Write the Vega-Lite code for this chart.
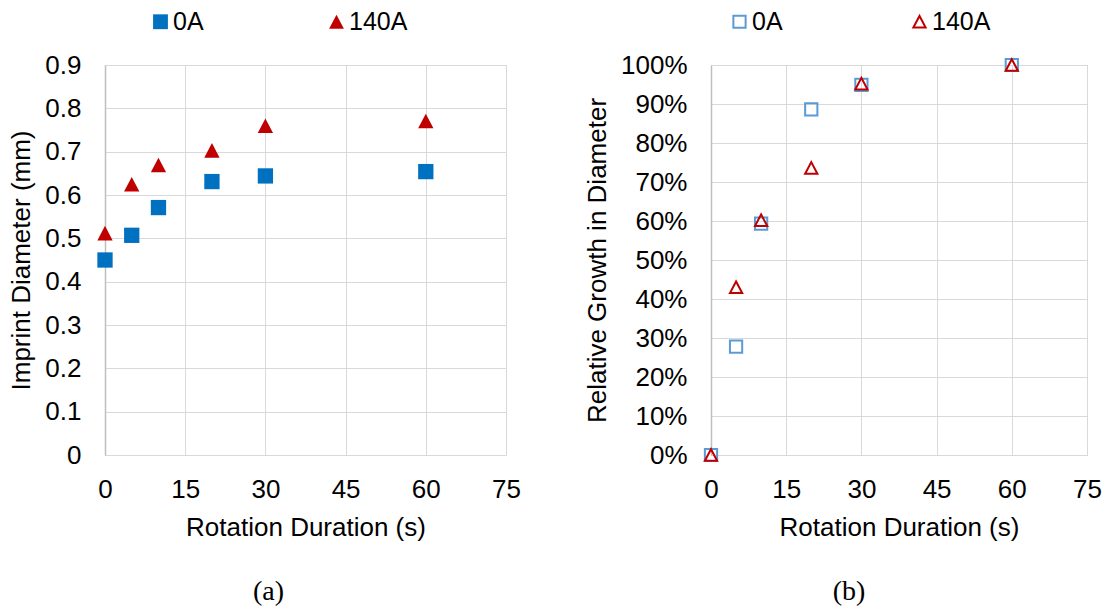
{
  "$schema": "https://vega.github.io/schema/vega-lite/v6.json",
  "background": "white",
  "padding": {"left": 8, "top": 8, "right": 5, "bottom": 5},
  "datasets": {
    "rotation": [
      {"t": 0, "current": "0A", "diameter": 0.450, "growth": 0.000},
      {"t": 5, "current": "0A", "diameter": 0.507, "growth": 0.278},
      {"t": 10, "current": "0A", "diameter": 0.571, "growth": 0.593},
      {"t": 20, "current": "0A", "diameter": 0.631, "growth": 0.886},
      {"t": 30, "current": "0A", "diameter": 0.644, "growth": 0.949},
      {"t": 60, "current": "0A", "diameter": 0.654, "growth": 1.000},
      {"t": 0, "current": "140A", "diameter": 0.512, "growth": 0.000},
      {"t": 5, "current": "140A", "diameter": 0.625, "growth": 0.430},
      {"t": 10, "current": "140A", "diameter": 0.669, "growth": 0.602},
      {"t": 20, "current": "140A", "diameter": 0.703, "growth": 0.736},
      {"t": 30, "current": "140A", "diameter": 0.760, "growth": 0.952},
      {"t": 60, "current": "140A", "diameter": 0.771, "growth": 1.000}
    ]
  },
  "spacing": 205,
  "bounds": "flush",
  "resolve": {
    "scale": {"color": "independent", "shape": "independent"},
    "legend": {"color": "independent", "shape": "independent"}
  },
  "config": {
    "font": "Liberation Sans",
    "view": {"stroke": "#D9D9D9", "strokeWidth": 1},
    "axis": {
      "labelFont": "Liberation Sans",
      "titleFont": "Liberation Sans",
      "labelFontSize": 26,
      "titleFontSize": 26,
      "titleFontWeight": "normal",
      "labelColor": "#000000",
      "titleColor": "#000000",
      "ticks": false,
      "tickSize": 0,
      "grid": true,
      "gridColor": "#D9D9D9",
      "gridWidth": 1,
      "labelOverlap": false,
      "labelFlush": false
    },
    "axisX": {"labelPadding": 21, "titlePadding": 12, "domainColor": "#D9D9D9", "domainWidth": 1},
    "axisY": {"labelPadding": 24, "titlePadding": 10, "domainColor": "#BFBFBF", "domainWidth": 1.5},
    "legend": {
      "labelFont": "Liberation Sans",
      "labelFontSize": 25,
      "labelColor": "#000000",
      "labelOffset": 0
    },
    "title": {"font": "Liberation Serif", "fontSize": 28, "fontWeight": "normal", "color": "#000000"}
  },
  "hconcat": [
    {
      "width": 401,
      "height": 390,
      "data": {"name": "rotation"},
      "title": {"text": "(a)", "orient": "bottom", "anchor": "middle", "dx": -37, "offset": 38},
      "mark": {"type": "point", "filled": true, "size": 234, "opacity": 1, "strokeWidth": 0},
      "encoding": {
        "x": {
          "field": "t", "type": "quantitative",
          "scale": {"domain": [0, 75], "nice": false},
          "axis": {"values": [0, 15, 30, 45, 60, 75], "title": "Rotation Duration (s)"}
        },
        "y": {
          "field": "diameter", "type": "quantitative",
          "scale": {"domain": [0, 0.9], "nice": false},
          "axis": {"values": [0, 0.1, 0.2, 0.3, 0.4, 0.5, 0.6, 0.7, 0.8, 0.9], "format": ".1~f", "title": "Imprint Diameter (mm)"}
        },
        "color": {
          "field": "current", "type": "nominal",
          "scale": {"domain": ["0A", "140A"], "range": ["#0070C0", "#C00000"]},
          "legend": {"orient": "none", "legendX": 43, "legendY": -56, "direction": "horizontal", "title": null, "symbolSize": 220, "columnPadding": 120, "symbolStrokeWidth": 0}
        },
        "shape": {
          "field": "current", "type": "nominal",
          "scale": {"domain": ["0A", "140A"], "range": ["square", "M-1,0.95L0,-0.95L1,0.95Z"]},
          "legend": {"orient": "none", "legendX": 43, "legendY": -56, "direction": "horizontal", "title": null, "symbolSize": 220, "columnPadding": 120, "symbolStrokeWidth": 0}
        }
      }
    },
    {
      "width": 376,
      "height": 390,
      "data": {"name": "rotation"},
      "title": {"text": "(b)", "orient": "bottom", "anchor": "middle", "dx": -50, "offset": 38},
      "mark": {"type": "point", "filled": false, "size": 150, "opacity": 1, "strokeWidth": 2},
      "encoding": {
        "x": {
          "field": "t", "type": "quantitative",
          "scale": {"domain": [0, 75], "nice": false},
          "axis": {"values": [0, 15, 30, 45, 60, 75], "title": "Rotation Duration (s)"}
        },
        "y": {
          "field": "growth", "type": "quantitative",
          "scale": {"domain": [0, 1], "nice": false},
          "axis": {"values": [0, 0.1, 0.2, 0.3, 0.4, 0.5, 0.6, 0.7, 0.8, 0.9, 1], "format": ".0%", "title": "Relative Growth in Diameter"}
        },
        "color": {
          "field": "current", "type": "nominal",
          "scale": {"domain": ["0A", "140A"], "range": ["#5B9BD5", "#C00000"]},
          "legend": {"orient": "none", "legendX": 16, "legendY": -56, "direction": "horizontal", "title": null, "symbolSize": 150, "symbolStrokeWidth": 2, "columnPadding": 124}
        },
        "shape": {
          "field": "current", "type": "nominal",
          "scale": {"domain": ["0A", "140A"], "range": ["square", "M-1,0.95L0,-0.95L1,0.95Z"]},
          "legend": {"orient": "none", "legendX": 16, "legendY": -56, "direction": "horizontal", "title": null, "symbolSize": 150, "symbolStrokeWidth": 2, "columnPadding": 124}
        }
      }
    }
  ]
}
